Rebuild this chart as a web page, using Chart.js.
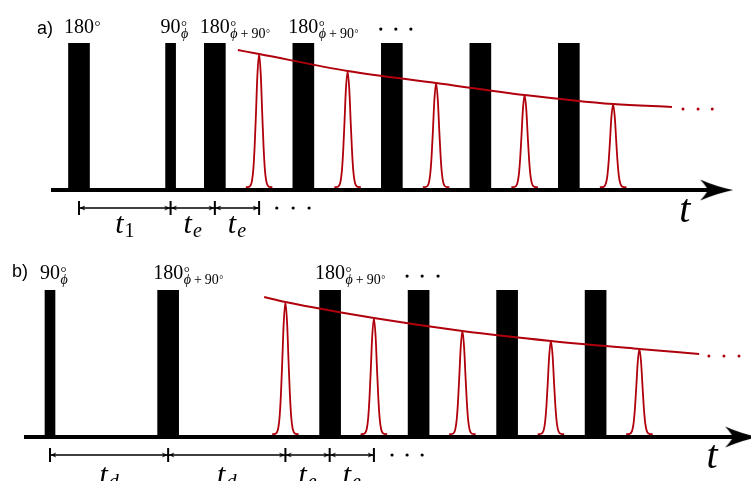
<!DOCTYPE html>
<html>
<head>
<meta charset="utf-8">
<title>Pulse sequences</title>
<script src="https://cdn.jsdelivr.net/npm/chart.js@4.4.1/dist/chart.umd.min.js"></script>
<style>
	body { margin: 0; background: #fff; }
	canvas { position: absolute; left: 0; }
	#chartA { top: 0; }
	#chartB { top: 240px; }
</style>
</head>
<body>
<canvas id="chartA" width="751" height="240"></canvas>
<canvas id="chartB" width="751" height="241"></canvas>
<script>
// times in units of t_e, amplitudes relative to the pulse height

// ---- a) ----
var pulseTimesA = [0, 2.07, 3.07, 5.07, 7.07, 9.07, 11.07];
var pulseAnglesA = [180, 90, 180, 180, 180, 180, 180];
var pulseMainA = ["180", "90", "180", "180"];
var pulseSubA = ["", "ϕ", "ϕ+90°", "ϕ+90°"];
var echoTimesA = [4.07, 6.07, 8.07, 10.07, 12.07];
var echoAmpsA = [0.927, 0.811, 0.729, 0.648, 0.586];
var envTimesA = [3.59, 4.07, 6.07, 8.07, 10.07, 12.07, 13.4];
var envAmpsA = [0.954, 0.927, 0.811, 0.729, 0.648, 0.586, 0.566];
var spanTicksA = [0, 2.07, 3.07, 4.07];
var spanSubsA = ["1", "e", "e"];

// ---- b) ----
var pulseTimesB = [0, 2.67, 6.33, 8.33, 10.33, 12.33];
var pulseAnglesB = [90, 180, 180, 180, 180, 180];
var pulseMainB = ["90", "180", "180"];
var pulseSubB = ["ϕ", "ϕ+90°", "ϕ+90°"];
var echoTimesB = [5.32, 7.32, 9.32, 11.32, 13.32];
var echoAmpsB = [0.92, 0.811, 0.723, 0.655, 0.6];
var envTimesB = [4.84, 5.32, 7.32, 9.32, 11.32, 13.32, 14.67];
var envAmpsB = [0.954, 0.92, 0.811, 0.723, 0.655, 0.6, 0.566];
var spanTicksB = [0, 2.67, 5.32, 6.32, 7.32];
var spanSubsB = ["d", "d", "e", "e"];

// echo line shape (offset from echo centre, fraction of echo amplitude)
var echoShapeDt = [-0.30, -0.26, -0.22, -0.19, -0.16, -0.13, -0.10, -0.07, -0.04, 0, 0.04, 0.07, 0.10, 0.13, 0.16, 0.19, 0.22, 0.26, 0.30];
var echoShapeH = [0, 0.0003, 0.003, 0.014, 0.048, 0.135, 0.31, 0.56, 0.83, 1, 0.83, 0.56, 0.31, 0.135, 0.048, 0.014, 0.003, 0.0003, 0];

var RED = "#b0000c";
var SERIF = '"Liberation Serif", "Times New Roman", serif';

function makeArrow(w, h, tipX, backX, notchX) {
	var c = document.createElement("canvas");
	c.width = w;
	c.height = h;
	var g = c.getContext("2d");
	var m = h / 2;
	g.fillStyle = "#000";
	g.beginPath();
	g.moveTo(tipX, m);
	g.quadraticCurveTo((tipX + backX) / 2, m - h * 0.15, backX, 0.5);
	g.quadraticCurveTo(notchX - 1, m - h * 0.15, notchX, m);
	g.quadraticCurveTo(notchX - 1, m + h * 0.15, backX, h - 0.5);
	g.quadraticCurveTo((tipX + backX) / 2, m + h * 0.15, tipX, m);
	g.fill();
	return c;
}

var bigArrow = makeArrow(34, 22, 33.5, 0.5, 8);
// tip sits at the image centre so the point can go right on the tick
var smallArrow = makeArrow(14, 6, 7, 1, 2.5);

function drawSub(ctx, s, x, y) {
	for (var i = 0; i < s.length; i++) {
		var ch = s[i];
		if (ch == "ϕ") {
			ctx.font = "italic 14px " + SERIF;
			ctx.fillText(ch, x, y);
			x += ctx.measureText(ch).width;
		} else if (ch == "+") {
			ctx.font = "14px " + SERIF;
			x += 3;
			ctx.fillText(ch, x, y);
			x += ctx.measureText(ch).width + 3;
		} else if (ch == "°") {
			ctx.font = "10px " + SERIF;
			ctx.fillText(ch, x + 0.5, y - 1);
			x += ctx.measureText(ch).width;
		} else {
			ctx.font = "14px " + SERIF;
			ctx.fillText(ch, x, y);
			x += ctx.measureText(ch).width;
		}
	}
}

function envPoints(d) {
	return d.envTimes.map(function(t, i) { return {x: t, y: d.envAmps[i]}; });
}

function buildPanel(id, d) {
	var datasets = [];

	datasets.push({
		type: "line",
		data: envPoints(d),
		borderColor: RED,
		borderWidth: 2,
		pointRadius: 0,
		cubicInterpolationMode: "monotone",
		order: 0
	});

	for (var i = 0; i < d.echoTimes.length; i++) {
		var pts = [];
		for (var k = 0; k < echoShapeDt.length; k++) {
			pts.push({
				x: d.echoTimes[i] + echoShapeDt[k],
				y: d.echoBase + (d.echoAmps[i] - d.echoBase) * echoShapeH[k]
			});
		}
		datasets.push({
			type: "line",
			data: pts,
			borderColor: RED,
			borderWidth: 1.8,
			pointRadius: 0,
			cubicInterpolationMode: "monotone",
			order: 1
		});
	}

	// red dots after the decay envelope
	datasets.push({
		type: "scatter",
		data: d.envDots.map(function(t) { return {x: t, y: d.envDotY}; }),
		backgroundColor: RED,
		borderWidth: 0,
		pointRadius: 1.5,
		order: 1
	});

	// black dots (above the pulses and after the time spans)
	datasets.push({
		type: "scatter",
		data: d.topDots.map(function(t) { return {x: t, y: d.topDotY}; })
			.concat(d.spanDots.map(function(t) { return {x: t, y: d.spanY}; })),
		backgroundColor: "#000",
		borderWidth: 0,
		pointRadius: 1.6,
		order: 1
	});

	// time spans |<--->|
	for (var j = 0; j < d.spanTicks.length - 1; j++) {
		datasets.push({
			type: "line",
			data: [{x: d.spanTicks[j], y: d.spanY}, {x: d.spanTicks[j + 1], y: d.spanY}],
			borderColor: "#000",
			borderWidth: 1.4,
			pointStyle: smallArrow,
			pointRotation: [180, 0],
			pointRadius: 3,
			order: 2
		});
	}
	datasets.push({
		type: "scatter",
		data: d.spanTicks.map(function(t) { return {x: t, y: d.spanY}; }),
		pointStyle: "line",
		pointRotation: 90,
		pointRadius: 7,
		borderColor: "#000",
		borderWidth: 2,
		order: 2
	});

	// pulses
	var p180 = [], p90 = [];
	for (var n = 0; n < d.pulseTimes.length; n++) {
		if (d.pulseAngles[n] == 180) p180.push({x: d.pulseTimes[n], y: 1});
		else p90.push({x: d.pulseTimes[n], y: 1});
	}
	datasets.push({type: "bar", data: p180, backgroundColor: "#000", barThickness: 21, grouped: false, order: 3});
	datasets.push({type: "bar", data: p90, backgroundColor: "#000", barThickness: 10, grouped: false, order: 3});

	// time axis and arrow head
	datasets.push({
		type: "line",
		data: [{x: d.axisFrom, y: 0}, {x: d.axisTo, y: 0}],
		borderColor: "#000",
		borderWidth: 4,
		borderCapStyle: "butt",
		pointRadius: 0,
		order: 4
	});
	datasets.push({
		type: "scatter",
		data: [{x: d.arrowAt, y: 0}],
		pointStyle: bigArrow,
		pointRadius: 5,
		order: 4
	});

	var textPlugin = {
		id: "seqText",
		afterDatasetsDraw: function(chart) {
			var ctx = chart.ctx;
			var xs = chart.scales.x, ys = chart.scales.y;
			ctx.save();
			ctx.fillStyle = "#000";
			ctx.textBaseline = "alphabetic";
			ctx.textAlign = "left";

			ctx.font = '18px "Liberation Sans", Arial, sans-serif';
			ctx.fillText(d.letter, xs.getPixelForValue(d.letterX), ys.getPixelForValue(d.letterY));

			// pulse flip angles
			for (var i = 0; i < d.pulseMain.length; i++) {
				var px = xs.getPixelForValue(d.pulseTimes[i]);
				var py = ys.getPixelForValue(d.labelY);
				ctx.font = "20px " + SERIF;
				var w = ctx.measureText(d.pulseMain[i]).width;
				var x0 = px - w / 2;
				ctx.fillText(d.pulseMain[i], x0, py);
				ctx.font = "15px " + SERIF;
				ctx.fillText("°", x0 + w + 0.5, py - 2);
				if (d.pulseSub[i]) drawSub(ctx, d.pulseSub[i], x0 + w + 0.5, py + 5);
			}

			// span names t_1, t_e, t_d
			for (var k = 0; k < d.spanSubs.length; k++) {
				var mid = xs.getPixelForValue((d.spanTicks[k] + d.spanTicks[k + 1]) / 2);
				var ty = ys.getPixelForValue(d.spanLabelY);
				ctx.font = "italic 30px " + SERIF;
				var wt = ctx.measureText("t").width;
				var subFont = (d.spanSubs[k] == "1" ? "" : "italic ") + "20px " + SERIF;
				ctx.font = subFont;
				var ws = ctx.measureText(d.spanSubs[k]).width;
				var sx = mid - (wt + ws + 1) / 2;
				ctx.font = "italic 30px " + SERIF;
				ctx.fillText("t", sx, ty);
				ctx.font = subFont;
				ctx.fillText(d.spanSubs[k], sx + wt + 1, ty + 4);
			}

			ctx.font = "italic 40px " + SERIF;
			ctx.textAlign = "center";
			ctx.fillText("t", xs.getPixelForValue(d.tX), ys.getPixelForValue(d.tY));
			ctx.restore();
		}
	};

	return new Chart(document.getElementById(id), {
		type: "line",
		data: {datasets: datasets},
		options: {
			responsive: false,
			animation: false,
			events: [],
			layout: {padding: 0, autoPadding: false},
			plugins: {legend: {display: false}, tooltip: {enabled: false}},
			scales: {
				x: {type: "linear", min: d.xMin, max: d.xMax, offset: false, display: false},
				y: {type: "linear", min: d.yMin, max: d.yMax, display: false}
			}
		},
		plugins: [textPlugin]
	});
}

buildPanel("chartA", {
	pulseTimes: pulseTimesA, pulseAngles: pulseAnglesA,
	pulseMain: pulseMainA, pulseSub: pulseSubA,
	echoTimes: echoTimesA, echoAmps: echoAmpsA,
	envTimes: envTimesA, envAmps: envAmpsA,
	spanTicks: spanTicksA, spanSubs: spanSubsA,
	letter: "a)", letterX: -0.95, letterY: 1.065,
	xMin: -1.7853, xMax: 15.1864, yMin: -0.3408, yMax: 1.2952,
	axisFrom: -0.633, axisTo: 14.26, arrowAt: 14.41,
	echoBase: 0.02, labelY: 1.067,
	topDots: [6.82, 7.16, 7.5], topDotY: 1.097,
	spanDots: [4.47, 4.84, 5.2], spanY: -0.1227,
	envDots: [13.65, 13.99, 14.31], envDotY: 0.553,
	spanLabelY: -0.293, tX: 13.69, tY: -0.218
});

buildPanel("chartB", {
	pulseTimes: pulseTimesB, pulseAngles: pulseAnglesB,
	pulseMain: pulseMainB, pulseSub: pulseSubB,
	echoTimes: echoTimesB, echoAmps: echoAmpsB,
	envTimes: envTimesB, envAmps: envAmpsB,
	spanTicks: spanTicksB, spanSubs: spanSubsB,
	letter: "b)", letterX: -0.86, letterY: 1.092,
	xMin: -1.1299, xMax: 15.8418, yMin: -0.2999, yMax: 1.3429,
	axisFrom: -0.588, axisTo: 15.48, arrowAt: 15.63,
	echoBase: 0.02, labelY: 1.077,
	topDots: [8.07, 8.41, 8.77], topDotY: 1.097,
	spanDots: [7.73, 8.07, 8.41], spanY: -0.1227,
	envDots: [14.89, 15.23, 15.57], envDotY: 0.553,
	spanLabelY: -0.318, tX: 14.96, tY: -0.211
});
</script>
</body>
</html>
